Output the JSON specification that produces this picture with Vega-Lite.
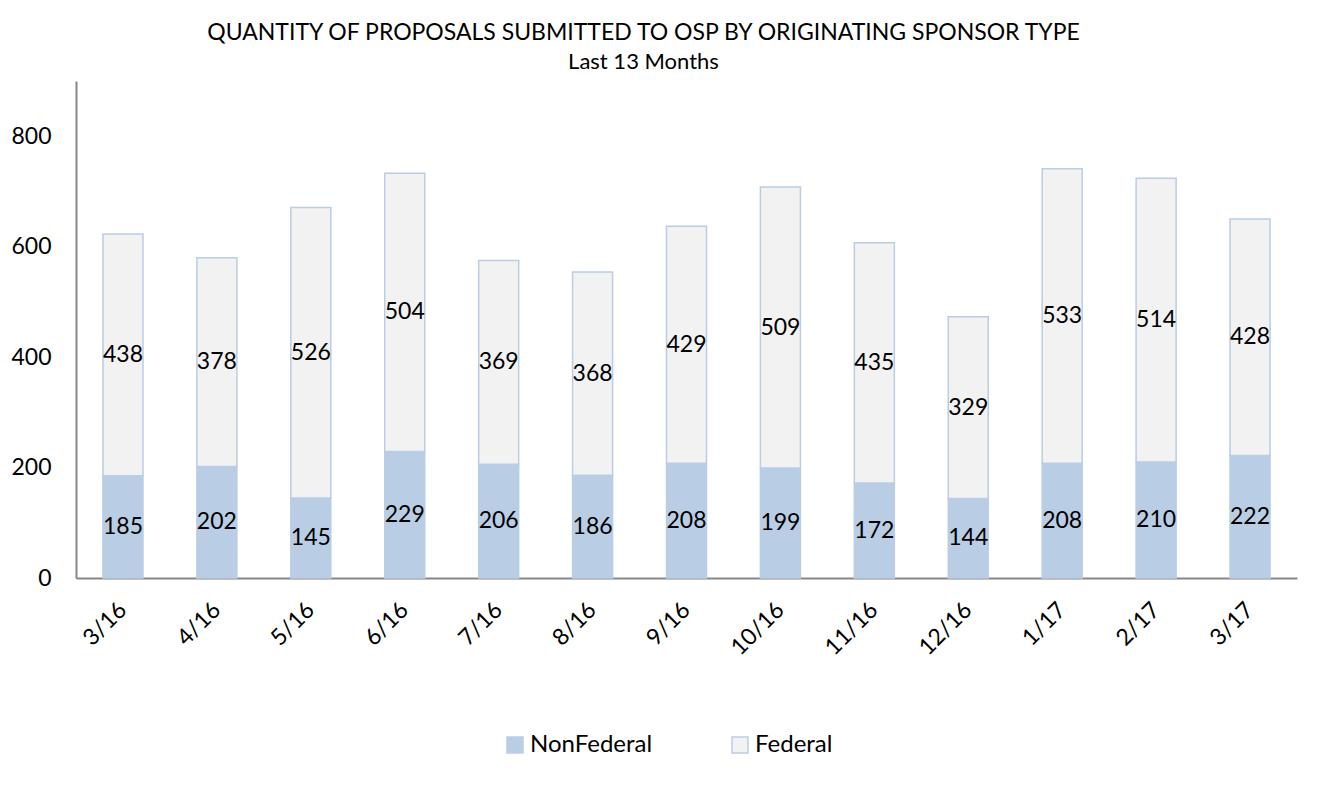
{
  "$schema": "https://vega.github.io/schema/vega-lite/v6.json",
  "width": 1221,
  "height": 497,
  "padding": {"left": 10, "top": 22, "right": 28, "bottom": 0},
  "background": "#ffffff",
  "title": {
    "text": "QUANTITY OF PROPOSALS SUBMITTED TO OSP BY ORIGINATING SPONSOR TYPE",
    "subtitle": "Last 13 Months",
    "anchor": "middle",
    "dx": -43,
    "font": "Lato",
    "fontSize": 23,
    "fontWeight": "normal",
    "color": "#000000",
    "subtitleFont": "Lato",
    "subtitleFontSize": 22,
    "subtitleColor": "#000000",
    "subtitlePadding": 7,
    "offset": 8
  },
  "data": {
    "values": [
      {"month": "3/16", "type": "NonFederal", "value": 185},
      {"month": "3/16", "type": "Federal", "value": 438},
      {"month": "4/16", "type": "NonFederal", "value": 202},
      {"month": "4/16", "type": "Federal", "value": 378},
      {"month": "5/16", "type": "NonFederal", "value": 145},
      {"month": "5/16", "type": "Federal", "value": 526},
      {"month": "6/16", "type": "NonFederal", "value": 229},
      {"month": "6/16", "type": "Federal", "value": 504},
      {"month": "7/16", "type": "NonFederal", "value": 206},
      {"month": "7/16", "type": "Federal", "value": 369},
      {"month": "8/16", "type": "NonFederal", "value": 186},
      {"month": "8/16", "type": "Federal", "value": 368},
      {"month": "9/16", "type": "NonFederal", "value": 208},
      {"month": "9/16", "type": "Federal", "value": 429},
      {"month": "10/16", "type": "NonFederal", "value": 199},
      {"month": "10/16", "type": "Federal", "value": 509},
      {"month": "11/16", "type": "NonFederal", "value": 172},
      {"month": "11/16", "type": "Federal", "value": 435},
      {"month": "12/16", "type": "NonFederal", "value": 144},
      {"month": "12/16", "type": "Federal", "value": 329},
      {"month": "1/17", "type": "NonFederal", "value": 208},
      {"month": "1/17", "type": "Federal", "value": 533},
      {"month": "2/17", "type": "NonFederal", "value": 210},
      {"month": "2/17", "type": "Federal", "value": 514},
      {"month": "3/17", "type": "NonFederal", "value": 222},
      {"month": "3/17", "type": "Federal", "value": 428}
    ]
  },
  "encoding": {
    "x": {
      "field": "month",
      "type": "ordinal",
      "sort": null,
      "scale": {"paddingInner": 0.574, "paddingOuter": 0.287},
      "axis": {
        "title": null,
        "labelAngle": -45,
        "labelAlign": "right",
        "labelBaseline": "middle",
        "labelFont": "Lato",
        "labelFontSize": 23,
        "labelColor": "#000000",
        "labelPadding": 28,
        "ticks": false,
        "domainColor": "#868686",
        "domainWidth": 2
      }
    },
    "y": {
      "field": "value",
      "type": "quantitative",
      "stack": "zero",
      "scale": {"domain": [0, 900], "nice": false},
      "axis": {
        "title": null,
        "values": [0, 200, 400, 600, 800],
        "grid": false,
        "ticks": false,
        "labelFont": "Lato",
        "labelFontSize": 23,
        "labelColor": "#000000",
        "labelPadding": 25,
        "domainColor": "#868686",
        "domainWidth": 2
      }
    },
    "order": {"field": "type", "sort": "descending"}
  },
  "layer": [
    {
      "mark": {"type": "bar", "stroke": "#b9cde5", "strokeWidth": 1.5},
      "encoding": {
        "color": {
          "field": "type",
          "type": "nominal",
          "sort": ["NonFederal", "Federal"],
          "scale": {"domain": ["NonFederal", "Federal"], "range": ["#b9cde5", "#f2f2f2"]},
          "legend": {
            "title": null,
            "orient": "none",
            "legendX": 427,
            "legendY": 652,
            "direction": "horizontal",
            "symbolType": "square",
            "symbolSize": 256,
            "symbolStrokeColor": "#b9cde5",
            "symbolStrokeWidth": 1.5,
            "labelFont": "Lato",
            "labelFontSize": 24,
            "labelColor": "#000000",
            "columnPadding": 75,
            "labelOffset": 3
          }
        }
      }
    },
    {
      "mark": {"type": "text", "font": "Lato", "fontSize": 23, "color": "#000000"},
      "encoding": {
        "y": {"field": "value", "type": "quantitative", "stack": "zero", "bandPosition": 0.5},
        "text": {"field": "value", "type": "quantitative"}
      }
    }
  ],
  "config": {
    "view": {"stroke": null}
  }
}
